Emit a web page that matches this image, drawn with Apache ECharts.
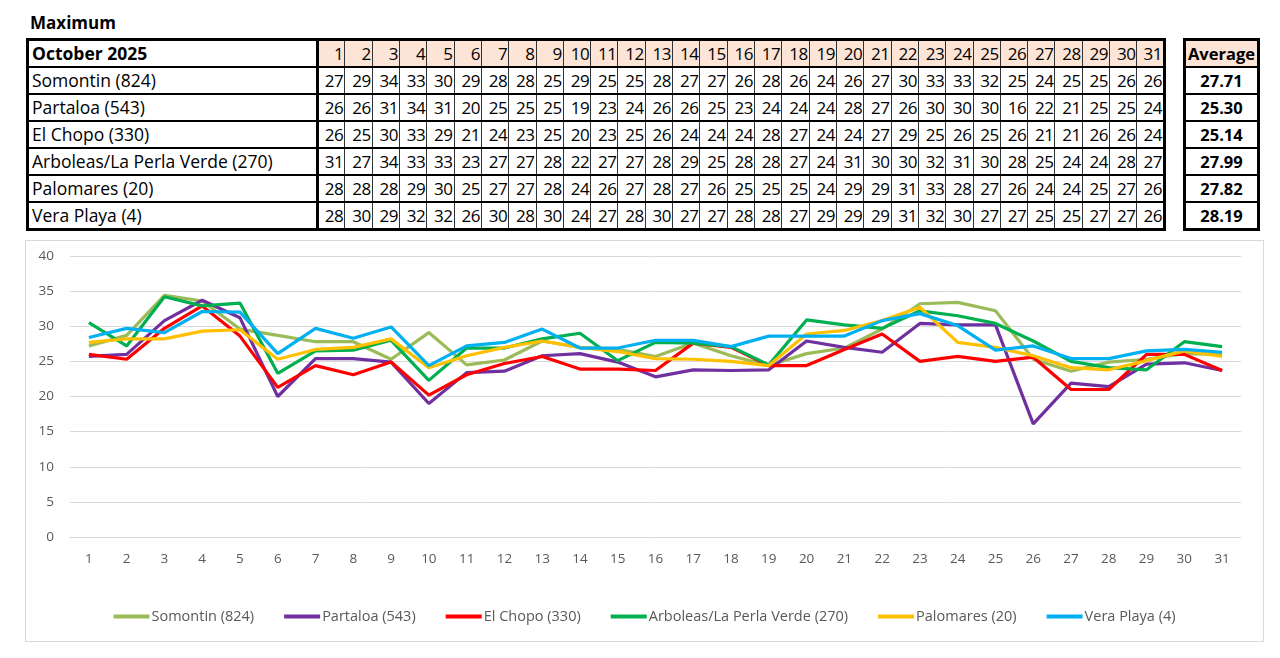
<!DOCTYPE html>
<html><head><meta charset="utf-8">
<script src="https://cdn.jsdelivr.net/npm/echarts@6/dist/echarts.min.js"></script>
<style>
html,body{margin:0;padding:0;background:#fff;width:1280px;height:658px;overflow:hidden;font-family:"Open Sans",sans-serif;}
#title{position:absolute;left:30px;top:11px;font-weight:bold;font-size:17px;color:#000;}
table{border-collapse:collapse;table-layout:fixed;position:absolute;top:38px;}
td{padding:0;height:25px;font-size:17px;color:#000;white-space:nowrap;overflow:hidden;line-height:23px;}
#main{left:26px;width:1140px;border:3px solid #000;}
#main td{border-left:1.5px solid #333;border-right:1.5px solid #333;border-top:2.5px solid #000;border-bottom:2.5px solid #000;text-align:right;padding-right:1px;letter-spacing:-0.5px;}
#main td.name{text-align:left;padding-left:3px;border-right:3px solid #000;font-size:17.5px;letter-spacing:0;}
#main tr.hd td{background:#FCE4D6;}
#main tr.hd td.name{background:#fff;font-weight:bold;}
#avg{left:1183px;width:77px;border:3px solid #000;}
#avg td{border-top:2.5px solid #000;border-bottom:2.5px solid #000;text-align:center;font-weight:bold;font-size:16.5px;}
#avg tr.hd td{background:#FCE4D6;}
#chart{position:absolute;left:25px;top:240px;width:1237px;height:400px;border:1px solid #d9d9d9;}
</style></head>
<body>
<div id="title">Maximum</div>
<table id="main"></table>
<table id="avg"></table>
<div id="chart"></div>
<script>
const monthLabel = "October 2025";
const days = ["1","2","3","4","5","6","7","8","9","10","11","12","13","14","15","16","17","18","19","20","21","22","23","24","25","26","27","28","29","30","31"];
const stations = ["Somontin (824)","Partaloa (543)","El Chopo (330)","Arboleas/La Perla Verde (270)","Palomares (20)","Vera Playa (4)"];
const colors = ["#9BBB59","#7030A0","#FF0000","#00B050","#FFC000","#00B0F0"];
const averages = ["27.71","25.30","25.14","27.99","27.82","28.19"];

// table values (rounded, as printed)
const tblSomontin = [27,29,34,33,30,29,28,28,25,29,25,25,28,27,27,26,28,26,24,26,27,30,33,33,32,25,24,25,25,26,26];
const tblPartaloa = [26,26,31,34,31,20,25,25,25,19,23,24,26,26,25,23,24,24,24,28,27,26,30,30,30,16,22,21,25,25,24];
const tblElChopo  = [26,25,30,33,29,21,24,23,25,20,23,25,26,24,24,24,28,27,24,24,27,29,25,26,25,26,21,21,26,26,24];
const tblArboleas = [31,27,34,33,33,23,27,27,28,22,27,27,28,29,25,28,28,27,24,31,30,30,32,31,30,28,25,24,24,28,27];
const tblPalomares= [28,28,28,29,30,25,27,27,28,24,26,27,28,27,26,25,25,25,24,29,29,31,33,28,27,26,24,24,25,27,26];
const tblVera     = [28,30,29,32,32,26,30,28,30,24,27,28,30,27,27,28,28,27,29,29,29,31,32,30,27,27,25,25,27,27,26];

// chart values
const somontin = [27.2,28.7,34.4,33.6,29.6,28.7,27.8,27.8,25.3,29.1,24.5,25.2,27.9,27.0,26.7,25.7,27.6,25.8,24.4,26.1,26.9,29.6,33.2,33.4,32.2,25.3,23.6,24.9,25.3,26.1,26.0];
const partaloa = [25.7,26.0,30.8,33.7,31.2,20.0,25.4,25.4,24.9,19.0,23.4,23.6,25.8,26.1,24.9,22.8,23.8,23.7,23.8,27.9,27.0,26.3,30.4,30.2,30.2,16.1,21.9,21.4,24.6,24.8,23.7];
const elChopo  = [26.0,25.3,29.7,32.9,28.6,21.3,24.4,23.1,24.9,20.2,23.1,24.7,25.7,23.9,23.9,23.7,27.6,27.0,24.4,24.4,26.7,28.9,25.0,25.7,25.0,25.6,21.0,21.0,26.0,26.0,23.7];
const arboleas = [30.5,27.2,34.2,32.9,33.3,23.3,26.5,26.6,28.0,22.3,26.9,26.9,28.2,29.0,25.1,27.7,27.6,27.1,24.5,30.9,30.2,29.7,32.2,31.5,30.4,27.9,25.0,24.1,23.8,27.8,27.1];
const palomares= [27.7,28.2,28.2,29.3,29.5,25.3,26.7,27.0,28.2,24.1,25.8,27.0,27.9,27.0,26.4,25.4,25.3,25.0,24.4,28.9,29.4,30.8,32.7,27.7,27.0,25.8,24.1,23.8,25.1,26.5,25.7];
const veraPlaya= [28.4,29.7,29.1,32.1,32.0,26.1,29.7,28.3,29.9,24.4,27.2,27.7,29.6,26.9,26.9,28.0,28.0,27.1,28.6,28.6,28.6,30.8,31.8,30.1,26.6,27.2,25.4,25.4,26.5,26.7,26.3];

const tblRows = [tblSomontin,tblPartaloa,tblElChopo,tblArboleas,tblPalomares,tblVera];
const seriesData = [somontin,partaloa,elChopo,arboleas,palomares,veraPlaya];

// build tables
let h = '<colgroup><col style="width:290px">' + days.map(()=>'<col>').join('') + '</colgroup>';
h += '<tr class="hd"><td class="name">'+monthLabel+'</td>' + days.map(d=>'<td>'+d+'</td>').join('') + '</tr>';
stations.forEach((s,i)=>{
  h += '<tr><td class="name">'+s+'</td>' + tblRows[i].map(v=>'<td>'+v+'</td>').join('') + '</tr>';
});
document.getElementById('main').innerHTML = h;
let a = '<tr class="hd"><td>Average</td></tr>' + averages.map(v=>'<tr><td>'+v+'</td></tr>').join('');
document.getElementById('avg').innerHTML = a;

const chart = echarts.init(document.getElementById('chart'));
chart.setOption({
  animation:false,
  textStyle:{fontFamily:'"Open Sans", sans-serif'},
  grid:{left:44,right:22,top:15,bottom:104},
  legend:{
    bottom:12,left:'center',itemWidth:36,itemHeight:4,itemGap:30,
    icon:'rect',
    textStyle:{color:'#595959',fontSize:14.5,padding:[0,0,0,-3]},
    data:stations
  },
  xAxis:{
    type:'category',data:days,boundaryGap:true,
    axisLine:{lineStyle:{color:'#d9d9d9'}},
    axisTick:{show:false},
    axisLabel:{color:'#595959',fontSize:13.5,margin:15}
  },
  yAxis:{
    type:'value',min:0,max:40,interval:5,
    axisLine:{show:false},axisTick:{show:false},
    splitLine:{lineStyle:{color:'#d9d9d9',width:1}},
    axisLabel:{color:'#595959',fontSize:13.5,margin:16}
  },
  series: stations.map((s,i)=>({
    name:s,type:'line',data:seriesData[i],
    symbol:'none',lineStyle:{width:3.2,color:colors[i]},itemStyle:{color:colors[i]},
    z:2+i
  }))
});
</script>
</body></html>
